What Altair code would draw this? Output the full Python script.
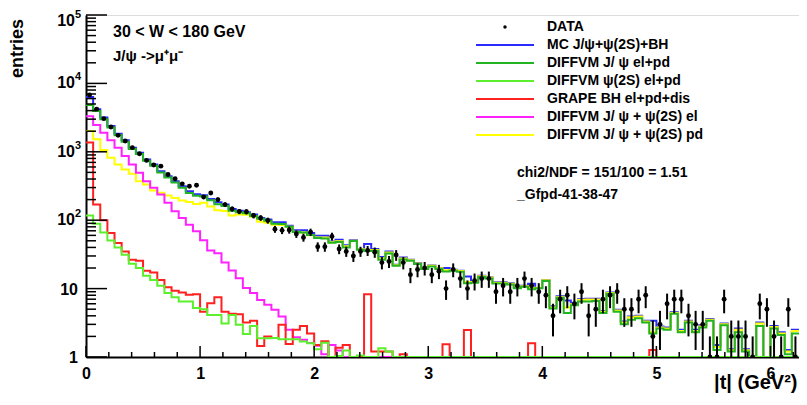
import altair as alt
import numpy as np
import pandas as pd

FONT = "Liberation Sans"
BIN_WIDTH = 0.0625

# ---------------- data (100 bins of |t| from 0 to 6.25 GeV^2) ----------------
data_counts = [6780, 4200, 3055, 2300, 1740, 1435, 1150, 938, 748, 640, 617, 466, 403, 340, 314, 325,
               218, 250, 200, 169, 146, 134, 133, 117, 108, 99, 74, 71, 72, 63, 56, 67, 41,
               41, 58, 38, 35, 30, 35, 36, 34, 24, 25, 31, 24, 16, 19, 20, 16, 18, 10, 19, 14, 10, 13,
               14, 14, 9, 11, 9, 11, 14, 11, 9, 8,
               4, 7, 8, 6, 9, 4, 5, 7, 8, 9, 5, 5, 7, 8, 2, 3, 6, 7, 7, 4, 3, 3, 1, 1, 7, 2, 2, 2, 1,
               6, 5, 2, 1, 5, 1]

mc_total = [6320, 4200, 3170, 2380, 1840, 1470, 1150, 970, 774, 654, 521, 440, 372, 314, 265, 240,
            232, 205, 183, 169, 146, 138, 131, 121, 108, 102, 93, 93, 83, 71, 71, 65,
            59, 59, 49, 52, 43, 51, 38, 45, 38, 29, 35, 22.4, 28.6, 26.4, 23.6, 20, 21.8, 20, 20,
            18.9, 18.3, 15, 12.7, 15.4, 14.7, 12.4, 12.4, 12, 10.5, 11, 11.8,
            10.2, 13.4, 5.5, 7.7, 6.7, 6.1, 7, 7.1, 7.1, 4.7, 8.8, 4.9, 3.3, 3.9, 4.0, 3.4, 3.4,
            2.8, 2.7, 4.5, 2.5, 3.4, 2.5, 2.9, 3.6, 1.5, 3.1, 1.3, 2.6, 1.3, 0, 3.2, 0, 2.85, 2.3,
            1.27, 2.5]

jpsi_elpd = [4830, 3940, 3000, 2260, 1750, 1400, 1100, 925, 740, 624, 497, 421, 355, 298, 250, 227,
             222, 195, 171, 161, 138, 131, 126, 115, 105, 98, 89, 88, 80, 67, 66, 61,
             55, 54, 47, 48, 40, 49.5, 37, 35.5, 35.8, 26.5, 32.5, 21.6, 26.6, 25.5, 22.8, 19.3, 21,
             19.3, 17.8, 18.2, 17.6, 12, 12.2, 14.8, 14.1, 11.9, 11.9, 11.5, 10.1, 10.6, 9.8, 10.1, 12.9,
             5.1, 7.3, 4.4, 5.7, 6.5, 6.5, 6.6, 4.4, 8.4, 4.6, 3.0, 3.5, 3.7, 3.2, 2.2, 2.6, 2.5, 4.3,
             2.3, 3.2, 2.3, 2.7, 3.4, 1.27, 2.9, 1.2, 2.3, 1.2, 0, 2.85, 0, 2.6, 2.1, 1.1, 2.2]

psi2s_elpd = [117, 89, 66, 50.6, 40, 31.3, 23.1, 20, 15.4, 13.4, 11, 8.6, 7.5, 6.5, 6.5, 5.2,
              5.0, 4.1, 4.1, 3.1, 4.1, 2.95, 2.17, 2.85, 1.88, 1.88, 1.9, 1.82, 1.82, 1.82, 1.68, 1.59,
              1.3, 1.62, 0, 1.03, 1.24, 0, 1.05, 0, 0, 1.34, 1.2] + [0] * 57

grape_bh = ([1370, 169, 100, 65, 46.5, 35, 26.4, 25.5, 18.3, 17.2, 13.4, 10.5, 9.3, 8.8, 8.1, 8.3, 4.6,
             6.1, 7.5, 4.6, 4.3, 4.2, 3.2, 3.4, 1.45, 2.0, 1.9, 2.95, 1.55, 2.5, 2.85, 2.2, 1.5, 1.7,
             0, 1.37, 1.5, 0, 0, 8.3, 1.2, 1.2, 1.2, 0, 1.1, 0, 0, 0, 0, 0,
             1.53, 0, 0, 2.49] + [0] * 8 + [1.59] + [0] * 16 + [1.27] + [0] * 20)

diffvm_el = [3300, 2460, 1900, 1470, 1150, 865, 653, 493, 372, 297, 237, 180, 135, 108, 86, 69,
             51, 36, 33, 24, 18.4, 14.2, 10.2, 8.6, 6.8, 5.8, 4.9, 3.9, 2.5, 1.94, 1.78, 1.6, 1.46,
             1.1, 1.5, 1.24] + [0] * 64

diffvm_pd = [2010, 1520, 1060, 819, 653, 552, 478, 372, 333, 272, 251, 229, 212, 194, 185, 173,
             180, 159, 140, 136, 117, 121, 120, 112, 95, 92, 86, 85, 80, 68, 66, 60,
             56, 56, 47.5, 49.4, 41.5, 50, 37.5, 36.7, 36.8, 27.8, 33.8, 22, 27.5, 26, 23.3, 19.8,
             21.5, 19.8, 18.5, 18.7, 18.1, 12.5, 12.5, 15.2, 14.5, 12.2, 12.2, 11.8, 10.4, 10.8,
             10.2, 10.3, 13.2,
             5.3, 7.5, 5.3, 5.9, 6.8, 6.9, 6.9, 4.6, 8.6, 4.8, 3.2, 3.8, 3.9, 3.3, 2.3, 2.7, 2.6,
             4.4, 2.4, 3.3, 2.4, 2.8, 3.5, 1.4, 3.0, 1.25, 2.5, 1.25, 0, 3.1, 0, 2.75, 2.2, 1.2, 2.4]

legend_labels = ["DATA", "MC J/\u03c8+\u03c8(2S)+BH", "DIFFVM J/ \u03c8 el+pd", "DIFFVM \u03c8(2S) el+pd",
                 "GRAPE BH el+pd+dis", "DIFFVM J/ \u03c8 + \u03c8(2S) el", "DIFFVM J/ \u03c8 + \u03c8(2S) pd"]
legend_colors = ["black", "#2a2aff", "#22b422", "#5cf02c", "#ff2020", "#ff22ff", "#ffff00"]

x_ticks_major = [0, 1, 2, 3, 4, 5, 6]
y_plain_ticks = [1, 10]
y_plain_labels = ["1", "10"]
y_pow_ticks = [100, 1000, 10000]
y_pow_sups = ["2", "3", "4"]
y_top_tick = [100000]
y_top_sup = ["5"]

W, H = 713, 342
n = len(data_counts)
edges = np.arange(n + 1) * BIN_WIDTH
centers = (np.arange(n) + 0.5) * BIN_WIDTH

xscale = alt.Scale(domain=[0, n * BIN_WIDTH], nice=False, zero=False)
yscale = alt.Scale(type="log", domain=[1, 100000], nice=False)


def step_df(vals):
    v = list(vals) + [vals[-1]]
    return pd.DataFrame({"t": edges, "n": np.maximum(np.array(v, dtype=float), 1.0)})


enc_x = alt.X("t:Q", scale=xscale,
              axis=alt.Axis(values=x_ticks_major, format="d", labelFont=FONT, labelFontSize=16,
                            labelFontWeight="bold", labelColor="black", ticks=False, grid=False,
                            domainColor="black", domainWidth=2, labelPadding=8, labelFlush=False,
                            title="|t| (GeV\u00b2)", titleFont=FONT, titleFontSize=20,
                            titleFontWeight="bold", titleColor="black", titleAlign="right",
                            titleBaseline="middle", titleX=W - 2, titleY=25, titleAnchor="end"))
enc_y = alt.Y("n:Q", scale=yscale,
              axis=alt.Axis(values=y_plain_ticks + y_pow_ticks + y_top_tick, labels=False,
                            ticks=False, grid=False, domainColor="black", domainWidth=2,
                            title="entries", titleFont=FONT, titleFontSize=18,
                            titleFontWeight="bold", titleColor="black", titleAngle=270,
                            titleAlign="center", titleBaseline="middle", titleX=-69, titleY=33))


def hist_layer(vals, color):
    return alt.Chart(step_df(vals)).mark_line(interpolate="step-after", color=color, strokeWidth=2,
                                              clip=True).encode(x=enc_x, y=enc_y)


layers = []
# draw order: total, pd, J/psi, el, BH, psi(2S)
layers.append(hist_layer(mc_total, legend_colors[1]))
for vals, col in [(diffvm_pd, legend_colors[6]), (jpsi_elpd, legend_colors[2]),
                  (diffvm_el, legend_colors[5]), (grape_bh, legend_colors[4]),
                  (psi2s_elpd, legend_colors[3])]:
    layers.append(hist_layer(vals, col))

# data points with Poisson error bars
dc = np.array(data_counts, dtype=float)
err = np.sqrt(dc)
df_data = pd.DataFrame({"t": centers, "n": dc,
                        "lo": np.maximum(dc - err, 1.0), "hi": dc + err})
layers.append(alt.Chart(df_data).mark_rule(color="black", strokeWidth=2, clip=True)
              .encode(x="t:Q", y="lo:Q", y2="hi:Q"))
layers.append(alt.Chart(df_data).mark_circle(color="black", size=24, opacity=1, clip=True)
              .encode(x="t:Q", y="n:Q"))

# axis ticks drawn inward (ROOT style)
x_minor = [round(0.2 * k, 2) for k in range(32) if k % 5 != 0]
y_minor = [m * 10 ** e for e in range(5) for m in range(2, 10)]
layers.append(alt.Chart(pd.DataFrame({"t": x_ticks_major})).mark_rule(color="black", strokeWidth=1.5)
              .encode(x="t:Q", y=alt.value(H), y2=alt.value(H - 11)))
layers.append(alt.Chart(pd.DataFrame({"t": x_minor})).mark_rule(color="black", strokeWidth=1.5)
              .encode(x="t:Q", y=alt.value(H), y2=alt.value(H - 5)))
layers.append(alt.Chart(pd.DataFrame({"n": y_plain_ticks + y_pow_ticks + y_top_tick}))
              .mark_rule(color="black", strokeWidth=1.5)
              .encode(y="n:Q", x=alt.value(0), x2=alt.value(21)))
layers.append(alt.Chart(pd.DataFrame({"n": y_minor})).mark_rule(color="black", strokeWidth=1.5)
              .encode(y="n:Q", x=alt.value(0), x2=alt.value(10)))


# y tick labels with real superscripts
def ylab(ticks, labs, x, align, size, dy):
    return (alt.Chart(pd.DataFrame({"n": ticks, "lab": labs}))
            .mark_text(align=align, baseline="middle", font=FONT, fontSize=size, fontWeight="bold",
                       color="black", dy=dy)
            .encode(y="n:Q", x=alt.value(x), text="lab:N"))


layers.append(ylab(y_plain_ticks, y_plain_labels, -8, "right", 16, 1))
layers.append(ylab(y_pow_ticks, ["10"] * len(y_pow_ticks), -11, "right", 16, 0))
layers.append(ylab(y_pow_ticks, y_pow_sups, -11, "left", 11, -6))
layers.append(ylab(y_top_tick, ["10"], -11, "right", 16, 6))
layers.append(ylab(y_top_tick, y_top_sup, -11, "left", 11, 0))

anchor = pd.DataFrame({"k": [0]})


def text_layer(txt, x, y, size):
    return alt.Chart(anchor).mark_text(align="left", baseline="middle", font=FONT, fontSize=size,
                                       fontWeight="bold", color="black").encode(
        x=alt.value(x), y=alt.value(y), text=alt.value(txt))


layers.append(text_layer("30 < W < 180 GeV", 27, 17, 16))
layers.append(text_layer("J/\u03c8 ->\u03bc\u207a\u03bc\u207b", 27, 41, 15))

# legend
for i, (lab, col) in enumerate(zip(legend_labels, legend_colors)):
    yy = 12 + 18 * i
    if i == 0:
        layers.append(alt.Chart(anchor).mark_circle(color="black", size=12, opacity=1)
                      .encode(x=alt.value(419), y=alt.value(yy)))
    else:
        layers.append(alt.Chart(anchor).mark_rule(color=col, strokeWidth=2)
                      .encode(x=alt.value(390), x2=alt.value(448), y=alt.value(yy)))
    layers.append(text_layer(lab, 461, yy, 14))

layers.append(text_layer("chi2/NDF = 151/100 = 1.51", 431, 158, 14))
layers.append(text_layer("_Gfpd-41-38-47", 431, 180, 14))

chart = alt.layer(*layers).properties(
    width=W, height=H,
    autosize=alt.AutoSizeParams(type="none"),
    padding={"left": 78, "top": 7, "right": 0, "bottom": 38},
).configure_view(stroke="black", strokeWidth=1.5).configure(background="white")

chart.save("out.html", embed_options={"renderer": "svg", "actions": False})
